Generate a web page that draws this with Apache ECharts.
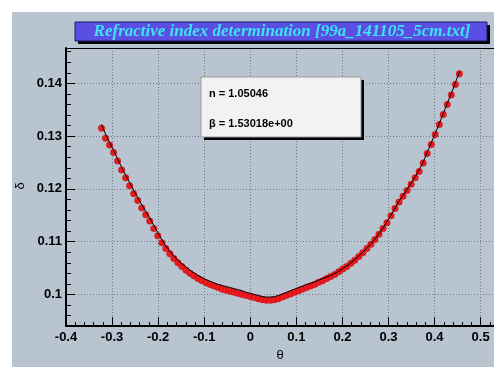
<!DOCTYPE html>
<html><head><meta charset="utf-8">
<script src="https://cdn.jsdelivr.net/npm/echarts@6/dist/echarts.min.js"></script>
<style>html,body{margin:0;padding:0;background:#fff}#c{width:494px;height:367px}</style>
</head><body><div id="c"></div>
<script>
// θ (rad) of each measured point
const theta = [-0.3229,-0.3142,-0.3054,-0.2967,-0.2880,-0.2793,-0.2705,-0.2618,-0.2531,-0.2443,
-0.2356,-0.2269,-0.2182,-0.2094,-0.2007,-0.1920,-0.1833,-0.1745,-0.1658,-0.1571,
-0.1484,-0.1396,-0.1309,-0.1222,-0.1134,-0.1047,-0.0960,-0.0873,-0.0785,-0.0698,
-0.0611,-0.0524,-0.0436,-0.0349,-0.0262,-0.0175,-0.0087,0,0.0087,0.0175,
0.0262,0.0349,0.0436,0.0524,0.0611,0.0698,0.0785,0.0873,0.0960,0.1047,
0.1134,0.1222,0.1309,0.1396,0.1484,0.1571,0.1658,0.1745,0.1833,0.1920,
0.2007,0.2094,0.2182,0.2269,0.2356,0.2443,0.2531,0.2618,0.2705,0.2793,
0.2880,0.2967,0.3054,0.3142,0.3229,0.3316,0.3403,0.3491,0.3578,0.3665,
0.3752,0.3840,0.3927,0.4014,0.4102,0.4189,0.4276,0.4363,0.4451,0.4538];
// measured δ (red points)
const delta = [0.1315,0.1296,0.1283,0.1269,0.1253,0.1236,0.1221,0.1206,0.1191,0.1178,
0.1164,0.1151,0.1139,0.1125,0.1111,0.1098,0.1087,0.1077,0.1068,0.1060,
0.1053,0.1046,0.1040,0.1035,0.1030,0.1026,0.1022,0.1019,0.1016,0.1013,
0.1010,0.1008,0.1006,0.1004,0.1002,0.1000,0.0998,0.0996,0.0994,0.0992,
0.0990,0.0989,0.0989,0.0990,0.0992,0.0995,0.0998,0.1001,0.1004,0.1007,
0.1010,0.1013,0.1016,0.1019,0.1023,0.1026,0.1030,0.1034,0.1038,0.1043,
0.1048,0.1053,0.1059,0.1065,0.1072,0.1079,0.1087,0.1095,0.1104,0.1114,
0.1125,0.1136,0.1149,0.1163,0.1175,0.1186,0.1197,0.1209,0.1221,0.1233,
0.1249,0.1267,0.1284,0.1303,0.1322,0.1341,0.1360,0.1378,0.1398,0.1418];
// fitted curve (black line)
const fitDelta = [0.1322,0.1304,0.1288,0.1273,0.1257,0.1241,0.1226,0.1212,0.1197,0.1184,
0.1170,0.1157,0.1145,0.1131,0.1117,0.1104,0.1092,0.1082,0.1073,0.1065,
0.1058,0.1052,0.1046,0.1041,0.1036,0.1032,0.1028,0.1025,0.1022,0.1019,
0.1017,0.1015,0.1013,0.1011,0.1009,0.1007,0.1004,0.1002,0.1000,0.0998,
0.0996,0.0995,0.0995,0.0996,0.0998,0.1001,0.1004,0.1007,0.1010,0.1013,
0.1016,0.1019,0.1021,0.1024,0.1027,0.1030,0.1033,0.1036,0.1040,0.1044,
0.1049,0.1054,0.1060,0.1066,0.1073,0.1080,0.1088,0.1096,0.1105,0.1115,
0.1126,0.1138,0.1150,0.1164,0.1177,0.1188,0.1199,0.1211,0.1223,0.1236,
0.1251,0.1269,0.1287,0.1305,0.1324,0.1343,0.1362,0.1381,0.1401,0.1422];
const xTickLabels = ['-0.4','-0.3','-0.2','-0.1','0','0.1','0.2','0.3','0.4','0.5'];
const yTickLabels = ['0.1','0.11','0.12','0.13','0.14'];
const titleText = 'Refractive index determination [99a_141105_5cm.txt]';
const boxLines = ['n = 1.05046', '\u03b2 = 1.53018e+00'];

const chart = echarts.init(document.getElementById('c'), null, {renderer: 'canvas'});
const fmt = list => v => { const s = String(+(+v).toFixed(3)); return list.includes(s) ? s : ''; };
const labelFont = {color: '#000', fontFamily: '"Liberation Sans", Arial, sans-serif', fontWeight: 'bold', fontSize: 13};
const gridLine = {show: true, lineStyle: {color: '#6f7a86', width: 1, type: [1, 2]}};
const option = {
  backgroundColor: '#ffffff',
  animation: false,
  grid: {left: 66, top: 48, right: 0, bottom: 28, containLabel: false},
  xAxis: [{
    type: 'value', min: -0.4, max: 0.529, interval: 0.1, position: 'bottom',
    name: '\u03b8', nameLocation: 'middle', nameGap: 19,
    nameTextStyle: {color: '#000', fontFamily: '"Liberation Sans", Arial', fontSize: 13},
    axisLine: {show: true, onZero: false, lineStyle: {color: '#000', width: 2}},
    axisTick: {show: true, inside: true, length: 9, lineStyle: {color: '#000', width: 1}},
    minorTick: {show: true, splitNumber: 5, length: 4, lineStyle: {color: '#000', width: 1}},
    axisLabel: Object.assign({margin: 5, formatter: fmt(xTickLabels), showMaxLabel: false}, labelFont),
    splitLine: gridLine
  }, {
    type: 'value', min: -0.4, max: 0.529, interval: 0.1, position: 'top',
    axisLine: {show: true, onZero: false, lineStyle: {color: '#000', width: 1}},
    axisTick: {show: false}, axisLabel: {show: false}, splitLine: {show: false}
  }],
  yAxis: {
    type: 'value', min: 0.094, max: 0.1467, splitNumber: 5,
    axisLine: {show: true, onZero: false, lineStyle: {color: '#000', width: 2}},
    axisTick: {show: true, inside: true, length: 9, lineStyle: {color: '#000', width: 1}},
    minorTick: {show: true, splitNumber: 5, length: 5, lineStyle: {color: '#000', width: 1}},
    axisLabel: Object.assign({margin: 4, formatter: fmt(yTickLabels), showMinLabel: false, showMaxLabel: false}, labelFont),
    splitLine: gridLine
  },
  graphic: [
    {type: 'rect', shape: {x: 12, y: 12, width: 482, height: 355}, style: {fill: '#b8c4cf'}, z: -100, silent: true},
    {type: 'text', x: 20, y: 186, rotation: Math.PI / 2,
     style: {text: '\u03b4', fill: '#000', font: '13px "Liberation Sans", Arial', align: 'center', verticalAlign: 'middle'}, z: 10},
    {type: 'rect', shape: {x: 78, y: 25, width: 412, height: 19}, style: {fill: '#000'}, z: 10},
    {type: 'rect', shape: {x: 75, y: 22, width: 412, height: 19}, style: {fill: '#5a4fe2', stroke: '#1d1870', lineWidth: 1}, z: 11},
    {type: 'text', x: 282, y: 32, style: {text: titleText, fill: '#3fe4f2', font: 'italic bold 17px "Liberation Serif", serif', align: 'center', verticalAlign: 'middle'}, z: 12},
    {type: 'rect', shape: {x: 204, y: 80, width: 160, height: 60}, style: {fill: '#000'}, z: 20},
    {type: 'rect', shape: {x: 201, y: 77, width: 160, height: 60}, style: {fill: '#f2f2f2', stroke: '#9a9a9a', lineWidth: 1}, z: 21},
    {type: 'text', x: 209, y: 94, style: {text: boxLines[0], fill: '#000', font: 'bold 11px "Liberation Sans", Arial', align: 'left', verticalAlign: 'middle'}, z: 22},
    {type: 'text', x: 209, y: 124, style: {text: boxLines[1], fill: '#000', font: 'bold 11px "Liberation Sans", Arial', align: 'left', verticalAlign: 'middle'}, z: 22}
  ],
  series: [{
    type: 'scatter', name: 'data', xAxisIndex: 0,
    data: theta.map((t, i) => [t, delta[i]]),
    symbol: 'circle', symbolSize: 6.5,
    itemStyle: {color: '#ea1a1e', borderColor: '#b00808', borderWidth: 0.4, opacity: 1},
    z: 2
  }, {
    type: 'line', name: 'fit', xAxisIndex: 0,
    data: theta.map((t, i) => [t, fitDelta[i]]),
    showSymbol: false, symbol: 'none', smooth: false,
    lineStyle: {color: '#000', width: 1},
    z: 3
  }]
};
chart.setOption(option);
</script></body></html>
